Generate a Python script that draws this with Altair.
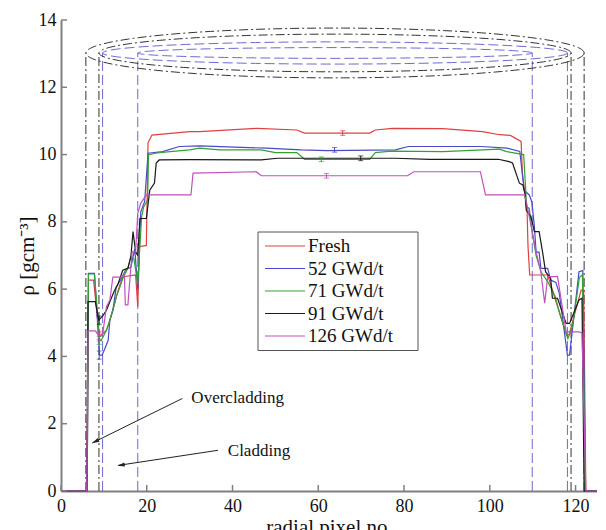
import math
import altair as alt
import pandas as pd

# ---------------- data ----------------
series_names = ["Fresh", "52 GWd/t", "71 GWd/t", "91 GWd/t", "126 GWd/t"]
series_colors = ["#e04040", "#4a4ac8", "#34a034", "#1a1a1a", "#c050c0"]

fresh = [(0, 0), (6.1, 0), (6.4, 6.27), (7.6, 6.27), (8.9, 4.63), (9.5, 4.65), (10.6, 4.78),
         (11.4, 5.08), (12.1, 5.38), (12.9, 5.77), (13.7, 6.12), (14.5, 6.37), (17.4, 6.42),
         (17.9, 5.48), (18.3, 7.26), (19.9, 7.3), (20.3, 10.35), (21.2, 10.58), (23, 10.6),
         (30, 10.68), (32.3, 10.68), (45.7, 10.78), (55, 10.73), (56.8, 10.64), (72, 10.64),
         (73.3, 10.73), (77.3, 10.78), (89, 10.77), (98.3, 10.68), (102.3, 10.59), (104.8, 10.57),
         (107.3, 10.39), (107.6, 9.45), (108.7, 8.3), (108.9, 7.3), (109.3, 6.42), (113.5, 6.42),
         (117.9, 4.63), (118.5, 4.65), (121.3, 5.97), (121.9, 5.97), (122.4, 0), (125, 0)]

gwd52 = [(0, 0), (6.1, 0), (6.4, 6.47), (7.8, 6.47), (9.0, 4.04), (9.6, 4.04), (10.1, 4.19),
         (11.0, 4.48), (11.4, 5.08), (12.1, 5.38), (12.9, 6.07), (13.9, 6.27), (15.2, 6.6),
         (16.3, 6.65), (17.2, 7.2), (17.9, 6.0), (18.6, 8.3), (19.5, 8.6), (20.3, 10.04),
         (23.7, 10.09), (27.6, 10.24), (32.3, 10.26), (47.9, 10.19), (56, 10.14), (62, 10.12),
         (78, 10.14), (81, 10.24), (98, 10.24), (104, 10.19), (107, 10.09), (108.0, 8.94),
         (109.2, 8.8), (109.8, 8.6), (110.4, 7.86), (110.8, 7.1), (111.5, 7.1), (111.9, 6.62),
         (113.5, 6.62), (114.2, 6.27), (115.4, 6.2), (116.2, 5.88), (118.1, 4.04), (118.6, 4.04),
         (120.8, 6.52), (121.7, 6.55), (122.3, 0), (125, 0)]

gwd71 = [(0, 0), (6.1, 0), (6.4, 6.45), (7.8, 6.45), (9.0, 4.48), (9.4, 4.48), (10.6, 4.78),
         (11.4, 5.08), (12.1, 5.38), (12.9, 5.78), (13.7, 6.05), (14.5, 6.35), (15.6, 6.62),
         (16.3, 6.97), (17.0, 6.9), (17.9, 6.17), (18.8, 8.15), (19.3, 8.45), (20.2, 8.65),
         (20.4, 9.99), (22, 10.04), (25.4, 10.09), (30, 10.14), (32.3, 10.19), (37, 10.14),
         (46.7, 10.14), (50, 10.06), (55, 10.06), (56.8, 9.86), (72, 9.86), (73.3, 10.06),
         (77, 10.1), (89, 10.09), (102.3, 10.16), (103.9, 10.09), (107.9, 10.0), (108.6, 8.45),
         (109.2, 8.4), (110, 7.6), (110.8, 7.0), (112, 6.5), (113.6, 6.2), (115.2, 5.8),
         (116.5, 5.2), (118.2, 4.53), (119.3, 4.9), (120.9, 6.35), (121.6, 6.42), (122.2, 0), (125, 0)]

gwd91 = [(0, 0), (6.0, 0), (6.3, 5.63), (8.0, 5.63), (8.8, 5.08), (9.7, 5.2), (10.6, 5.37),
         (11.7, 5.72), (12.5, 5.97), (13.2, 6.12), (14.4, 6.56), (15.6, 6.62), (16.3, 6.97),
         (16.8, 7.71), (17.4, 7.11), (17.9, 7.0), (18.4, 8.1), (19.9, 8.1), (20.7, 8.94),
         (21.8, 9.15), (22.2, 9.75), (22.9, 9.84), (30, 9.85), (46.7, 9.84), (50.5, 9.89),
         (78, 9.89), (86, 9.86), (102, 9.86), (104.5, 9.79), (105.3, 9.75), (106.9, 9.15),
         (107.7, 9.1), (108.2, 8.85), (108.5, 8.35), (109.6, 8.15), (110.4, 7.71), (111.5, 7.71),
         (112.3, 7.11), (113, 6.52), (114.2, 6.32), (114.6, 5.73), (115.8, 5.73), (117.8, 4.98),
         (118.6, 4.98), (120.8, 5.68), (121.5, 5.73), (122.0, 0), (125, 0)]

gwd126 = [(0, 0), (6.0, 0), (6.3, 4.76), (8.0, 4.76), (9.0, 4.58), (9.7, 4.65), (10.6, 5.48),
          (11.4, 5.68), (12.1, 6.36), (14.8, 6.36), (15.0, 5.53), (15.6, 5.53), (16.2, 6.5),
          (16.6, 7.11), (17.4, 7.11), (17.9, 8.25), (18.6, 8.55), (19.9, 8.8), (30.3, 8.8),
          (30.8, 9.45), (45.5, 9.49), (46.7, 9.37), (80.8, 9.37), (82.3, 9.49), (97.8, 9.49),
          (99, 8.8), (108.1, 8.8), (108.6, 8.55), (110.8, 7.11), (111.9, 6.52), (112.8, 5.58),
          (113.5, 6.37), (115.8, 6.37), (117.8, 4.73), (120.8, 4.73), (121.5, 4.7), (122.4, 0), (125, 0)]

profiles = [fresh, gwd52, gwd71, gwd91, gwd126]

# error bars on the plateau and at the left minimum
bar_x = [65.7, 63.8, 60.7, 69.9, 61.9]
bar_y = [10.64, 10.14, 9.86, 9.89, 9.37]
min_x = [8.9, 8.9, 8.9, 8.9, 8.9]
min_y = [4.63, 4.04, 4.48, 5.08, 4.58]

# cylinder sketch: centre and semi-axes of the top ellipses
cyl_cx = 63.9
cyl_cy = 13.02
black_a = [58.1, 55.05]
black_b = [0.74, 0.56]
blue_a = [54.2, 46.0]
blue_b = [0.33, 0.16]

# annotations
ann_text = ["Overcladding", "Cladding"]
ann_x = [30.4, 38.9]
ann_y = [2.75, 1.19]
arrow_x0 = [28.3, 36.6]
arrow_y0 = [2.75, 1.21]
arrow_x1 = [7.3, 13.3]
arrow_y1 = [1.43, 0.76]
head_x = [8.0, 14.0]
head_y = [1.47, 0.77]

x_ticks = [0, 20, 40, 60, 80, 100, 120]
y_ticks = [0, 2, 4, 6, 8, 10, 12, 14]

# ---------------- tables ----------------
rows = []
for name, prof in zip(series_names, profiles):
    for i, (xv, yv) in enumerate(prof):
        rows.append({"series": name, "x": xv, "y": yv, "i": i})
lines_df = pd.DataFrame(rows)


def ellipse_rows(a_list, b_list, tag):
    out = []
    for k, (a, b) in enumerate(zip(a_list, b_list)):
        for i in range(181):
            t = 2 * math.pi * i / 180
            out.append({"e": f"{tag}{k}", "i": i,
                        "x": cyl_cx + a * math.cos(t), "y": cyl_cy + b * math.sin(t)})
    return pd.DataFrame(out)


black_ell = ellipse_rows(black_a, black_b, "k")
blue_ell = ellipse_rows(blue_a, blue_b, "b")
black_guides = pd.DataFrame({"x": [cyl_cx - a for a in black_a] + [cyl_cx + a for a in black_a],
                             "y": 0, "y2": cyl_cy})
blue_guides = pd.DataFrame({"x": [cyl_cx - a for a in blue_a] + [cyl_cx + a for a in blue_a],
                            "y": 0, "y2": cyl_cy})

bars_df = pd.DataFrame({"series": series_names * 2, "x": bar_x + min_x, "y": bar_y + min_y,
                        "h": [0.07] * 5 + [0.12] * 5})

FONT = "Liberation Serif"
W, H = 536, 471

xscale = alt.Scale(domain=[0, 125], nice=False, zero=False)
yscale = alt.Scale(domain=[0, 14], nice=False, zero=False)
cscale = alt.Scale(domain=series_names, range=series_colors)

xaxis = alt.Axis(title="radial pixel no.", values=x_ticks, tickSize=0, grid=False,
                 domainColor="#808080", domainWidth=2, labelPadding=6, labelFont=FONT,
                 labelFontSize=18, labelColor="#111", labelFlush=False, titleFont=FONT,
                 titleFontSize=21, titleFontWeight="normal", titleColor="#111",
                 titleBaseline="top", titleY=25)
yaxis = alt.Axis(title="ρ [gcm⁻³]", values=y_ticks, tickSize=0, grid=False,
                 domainColor="#808080", domainWidth=2, labelPadding=5, labelFont=FONT,
                 labelFontSize=18, labelColor="#111", labelFlush=False, titleFont=FONT,
                 titleFontSize=21, titleFontWeight="normal", titleColor="#111",
                 titleBaseline="middle", titleX=-34, titleY=H / 2)


def X(field="x"):
    return alt.X(f"{field}:Q", scale=xscale, axis=xaxis)


def Y(field="y"):
    return alt.Y(f"{field}:Q", scale=yscale, axis=yaxis)


one = pd.DataFrame({"a": [0]})

black_guide_layer = alt.Chart(black_guides).mark_rule(
    color="#333333", strokeWidth=1, strokeDash=[9, 3, 2, 3]).encode(x=X(), y=Y(), y2="y2:Q")
blue_guide_layer = alt.Chart(blue_guides).mark_rule(
    color="#6a6ad2", strokeWidth=1, strokeDash=[10, 4]).encode(x=X(), y=Y(), y2="y2:Q")
black_ell_layer = alt.Chart(black_ell).mark_line(
    color="#333333", strokeWidth=1, strokeDash=[9, 3, 2, 3]).encode(
    x=X(), y=Y(), detail="e:N", order="i:Q")
blue_ell_layer = alt.Chart(blue_ell).mark_line(
    color="#6a6ad2", strokeWidth=1, strokeDash=[10, 4]).encode(
    x=X(), y=Y(), detail="e:N", order="i:Q")

curves = alt.Chart(lines_df).mark_line(strokeWidth=1.2).encode(
    x=X(), y=Y(),
    color=alt.Color("series:N", scale=cscale, legend=None),
    order="i:Q")

bars_base = alt.Chart(bars_df).transform_calculate(
    lo="datum.y - datum.h", hi="datum.y + datum.h")
bar_rule = bars_base.mark_rule(strokeWidth=1).encode(
    x=X(), y=Y("lo"), y2="hi:Q", color=alt.Color("series:N", scale=cscale, legend=None))
bar_cap_lo = bars_base.mark_tick(orient="horizontal", size=5, thickness=1).encode(
    x=X(), y=Y("lo"), color=alt.Color("series:N", scale=cscale, legend=None))
bar_cap_hi = bars_base.mark_tick(orient="horizontal", size=5, thickness=1).encode(
    x=X(), y=Y("hi"), color=alt.Color("series:N", scale=cscale, legend=None))

ann_df = pd.DataFrame({"t": ann_text, "x": ann_x, "y": ann_y})
ann_layer = alt.Chart(ann_df).mark_text(
    align="left", baseline="middle", font=FONT, fontSize=17, color="#111").encode(
    x=X(), y=Y(), text="t:N")
arrow_df = pd.DataFrame({"x": arrow_x0, "y": arrow_y0, "x2": arrow_x1, "y2": arrow_y1})
arrow_layer = alt.Chart(arrow_df).mark_rule(color="#222", strokeWidth=1).encode(
    x=X(), y=Y(), x2="x2:Q", y2="y2:Q")
head_shape = "M0,-1L0.55,1L-0.55,1Z"
head1 = alt.Chart(pd.DataFrame({"x": head_x[:1], "y": head_y[:1]})).mark_point(
    shape=head_shape, filled=True, color="#222", size=55, angle=244, opacity=1).encode(x=X(), y=Y())
head2 = alt.Chart(pd.DataFrame({"x": head_x[1:], "y": head_y[1:]})).mark_point(
    shape=head_shape, filled=True, color="#222", size=55, angle=261, opacity=1).encode(x=X(), y=Y())

# legend drawn by hand
legend_df = pd.DataFrame({"series": series_names, "idx": list(range(len(series_names)))})
legend_box = alt.Chart(one).mark_rect(fill="white", stroke="#555555", strokeWidth=1).encode(
    x=alt.value(197), x2=alt.value(357), y=alt.value(212), y2=alt.value(330.5))
legend_base = alt.Chart(legend_df).transform_calculate(py="226 + 22.5 * datum.idx")
legend_lines = legend_base.mark_rule(strokeWidth=1.2).encode(
    x=alt.value(204), x2=alt.value(244),
    y=alt.Y("py:Q", scale=None, axis=None),
    color=alt.Color("series:N", scale=cscale, legend=None))
legend_text = legend_base.mark_text(
    align="left", baseline="middle", font=FONT, fontSize=19, color="#111").encode(
    x=alt.value(247), y=alt.Y("py:Q", scale=None, axis=None), text="series:N")

# inward ticks
xt = alt.Chart(pd.DataFrame({"x": x_ticks})).mark_rule(color="#808080", strokeWidth=1.5).encode(
    x=X(), y=alt.value(H), y2=alt.value(H - 6))
yt = alt.Chart(pd.DataFrame({"y": y_ticks})).mark_rule(color="#808080", strokeWidth=1.5).encode(
    y=Y(), x=alt.value(0), x2=alt.value(6))

chart = alt.layer(
    black_guide_layer, blue_guide_layer, black_ell_layer, blue_ell_layer,
    curves, bar_rule, bar_cap_lo, bar_cap_hi,
    arrow_layer, head1, head2, ann_layer,
    legend_box, legend_lines, legend_text, xt, yt,
).properties(
    width=W, height=H,
    autosize=alt.AutoSizeParams(type="none"),
    padding={"left": 53, "top": 12, "right": 0, "bottom": 39},
    background="white",
).configure_view(stroke=None)

chart.save("out.html", embed_options={"renderer": "svg", "actions": False})
